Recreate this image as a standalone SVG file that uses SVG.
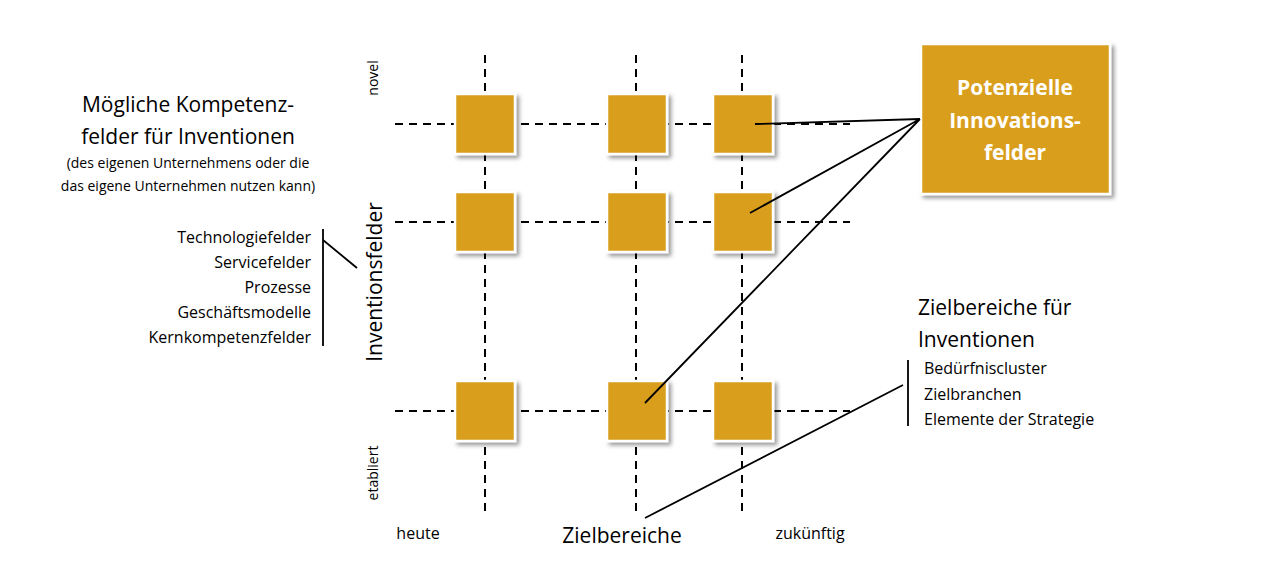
<svg xmlns="http://www.w3.org/2000/svg" width="1280" height="585" viewBox="0 0 1280 585">
<defs>
<filter id="sh" x="-20%" y="-20%" width="150%" height="150%"><feDropShadow dx="3" dy="3" stdDeviation="2" flood-color="#000" flood-opacity="0.4"/></filter>
<style>
.sq{fill:#D99E1E;stroke:#fff;stroke-width:2.5;filter:url(#sh)}
.d{stroke:#000;stroke-width:2;stroke-dasharray:8 6;fill:none}
.l{stroke:#000;stroke-width:1.8;fill:none}
text{font-family:"Open Sans","Liberation Sans",sans-serif;fill:#000}
</style>
</defs>
<rect width="1280" height="585" fill="#fff"/>
<g id="grid">
<path class="d" d="M485 55V512M636 55V512M742 55V512M395 124H850M395 222H850M395 411H850"/>
</g>
<g id="squares">
<rect class="sq" x="455" y="94" width="60" height="60"/>
<rect class="sq" x="607" y="94" width="60" height="60"/>
<rect class="sq" x="713" y="94" width="60" height="60"/>
<rect class="sq" x="455" y="192" width="60" height="60"/>
<rect class="sq" x="607" y="192" width="60" height="60"/>
<rect class="sq" x="713" y="192" width="60" height="60"/>
<rect class="sq" x="455" y="381" width="60" height="60"/>
<rect class="sq" x="607" y="381" width="60" height="60"/>
<rect class="sq" x="713" y="381" width="60" height="60"/>
</g>
<g id="innovationsfelder">
<rect class="sq" x="921" y="44" width="189" height="150"/>
<text x="1015" y="95" text-anchor="middle" font-size="21" font-weight="bold" fill="#fff" style="fill:#fff">Potenzielle</text>
<text x="1015" y="128" text-anchor="middle" font-size="21" font-weight="bold" style="fill:#fff">Innovations-</text>
<text x="1015" y="160" text-anchor="middle" font-size="21" font-weight="bold" style="fill:#fff">felder</text>
</g>
<g id="connectors">
<path class="l" d="M920 119L755 124M920 119L750 213M920 119L645 403M645 518L903 385"/>
<path class="l" d="M323 229V346M323 240L357 268M908 360V426"/>
</g>
<g id="left">
<text x="188" y="112" text-anchor="middle" font-size="21">Mögliche Kompetenz-</text>
<text x="188" y="144" text-anchor="middle" font-size="21">felder für Inventionen</text>
<text x="188" y="168" text-anchor="middle" font-size="14">(des eigenen Unternehmens oder die</text>
<text x="188" y="191" text-anchor="middle" font-size="14">das eigene Unternehmen nutzen kann)</text>
<g font-size="16" text-anchor="end">
<text x="311" y="243">Technologiefelder</text>
<text x="311" y="268">Servicefelder</text>
<text x="311" y="293">Prozesse</text>
<text x="311" y="318">Geschäftsmodelle</text>
<text x="311" y="343">Kernkompetenzfelder</text>
</g>
</g>
<g id="axes">
<text transform="translate(382,282) rotate(-90)" text-anchor="middle" font-size="21">Inventionsfelder</text>
<text transform="translate(378,78) rotate(-90)" text-anchor="middle" font-size="14">novel</text>
<text transform="translate(378,473) rotate(-90)" text-anchor="middle" font-size="14">etabliert</text>
<text x="418" y="539" text-anchor="middle" font-size="16">heute</text>
<text x="622" y="543" text-anchor="middle" font-size="21">Zielbereiche</text>
<text x="810" y="539" text-anchor="middle" font-size="16">zukünftig</text>
</g>
<g id="right">
<text x="918" y="315" font-size="21">Zielbereiche für</text>
<text x="918" y="347" font-size="21">Inventionen</text>
<text x="924" y="374" font-size="16">Bedürfniscluster</text>
<text x="924" y="400" font-size="16">Zielbranchen</text>
<text x="924" y="425" font-size="16">Elemente der Strategie</text>
</g>
</svg>
